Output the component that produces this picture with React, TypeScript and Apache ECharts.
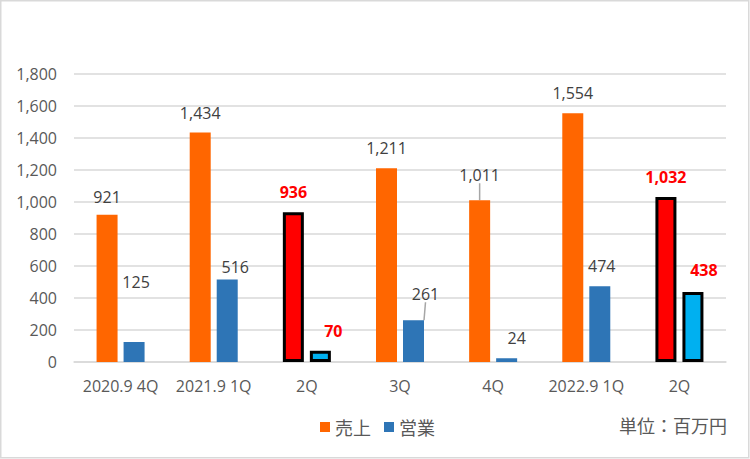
import React, { useEffect, useRef } from "react";
import * as echarts from "echarts";

const categories = ["2020.9 4Q", "2021.9 1Q", "2Q", "3Q", "4Q", "2022.9 1Q", "2Q"];
const salesValues = [921, 1434, 936, 1211, 1011, 1554, 1032];
const opValues = [125, 516, 70, 261, 24, 474, 438];
const highlighted = [2, 6];
const seriesNames = ["売上", "営業"];
const unitText = "単位：百万円";

// label nudges (px) relative to the default "top" label placement
const salesLabelShift = [
  [0, -5], [0, -7], [0, -7], [0, -7], [0, -12], [0, -7], [0, -7],
];
const opLabelShift = [
  [2, -47], [8, 1], [13, -7], [12, -13], [10, -7], [2, -7], [11, -9],
];
const salesLeader = [4];
const opLeader = [3];

const FONT = "'Open Sans', 'Noto Sans CJK JP', sans-serif";
const JP_FONT = "'Noto Sans CJK JP', sans-serif";

export default function App() {
  const ref = useRef<HTMLDivElement>(null);

  useEffect(() => {
    document.body.style.margin = "0";
    if (!ref.current) return;
    const chart = echarts.init(ref.current, undefined, { renderer: "svg" });

    const buildData = (
      values: number[],
      normal: string,
      hi: string,
      leaders: number[]
    ) =>
      values.map((v, i) => {
        const isHi = highlighted.includes(i);
        const item: any = { value: v };
        if (isHi) {
          item.itemStyle = { color: hi, borderColor: "#000000", borderWidth: 3 };
          item.label = { color: "#ff0000", fontWeight: "bold" };
        }
        if (leaders.includes(i)) {
          item.labelLine = { show: true };
        }
        return item;
      });

    const labelCommon = {
      show: true,
      position: "top",
      distance: 5,
      fontFamily: FONT,
      fontSize: 16,
      color: "#404040",
      formatter: (p: any) => Number(p.value).toLocaleString("en-US"),
    };

    chart.setOption({
      animation: false,
      grid: { left: 74, right: 24, top: 74, bottom: 97 },
      legend: {
        left: 315,
        top: 413,
        itemWidth: 10,
        itemHeight: 10,
        itemGap: 13,
        icon: "rect",
        textStyle: { fontFamily: JP_FONT, fontSize: 18, color: "#595959" },
        data: seriesNames,
      },
      xAxis: {
        type: "category",
        data: categories,
        axisLine: { lineStyle: { color: "#d9d9d9", width: 1.5 } },
        axisTick: { show: false },
        axisLabel: {
          fontFamily: FONT,
          fontSize: 16,
          color: "#595959",
          margin: 16,
          interval: 0,
        },
      },
      yAxis: {
        type: "value",
        min: 0,
        max: 1800,
        interval: 200,
        axisLine: { show: false },
        axisTick: { show: false },
        splitLine: { lineStyle: { color: "#d9d9d9", width: 1.5 } },
        axisLabel: {
          fontFamily: FONT,
          fontSize: 16,
          color: "#595959",
          margin: 17,
          formatter: (v: number) => v.toLocaleString("en-US"),
        },
      },
      graphic: [
        {
          type: "rect",
          shape: { x: 0.75, y: 0.75, width: 748, height: 457 },
          style: { fill: "none", stroke: "#d9d9d9", lineWidth: 1.5 },
          silent: true,
        },
        {
          type: "text",
          x: 727,
          y: 425,
          style: {
            text: unitText,
            fontFamily: JP_FONT,
            fontSize: 18,
            fill: "#595959",
            align: "right",
            verticalAlign: "middle",
          },
        },
      ],
      series: [
        {
          name: seriesNames[0],
          type: "bar",
          barWidth: 21,
          barGap: "28.6%",
          itemStyle: { color: "#ff6600" },
          data: buildData(salesValues, "#ff6600", "#ff0000", salesLeader),
          label: labelCommon,
          labelLine: { show: false, lineStyle: { color: "#a6a6a6", width: 1.5 } },
          labelLayout: (p: any) => ({
            dx: salesLabelShift[p.dataIndex][0],
            dy: salesLabelShift[p.dataIndex][1],
          }),
        },
        {
          name: seriesNames[1],
          type: "bar",
          barWidth: 21,
          barGap: "28.6%",
          itemStyle: { color: "#2e75b6" },
          data: buildData(opValues, "#2e75b6", "#00b0f0", opLeader),
          label: labelCommon,
          labelLine: { show: false, lineStyle: { color: "#a6a6a6", width: 1.5 } },
          labelLayout: (p: any) => ({
            dx: opLabelShift[p.dataIndex][0],
            dy: opLabelShift[p.dataIndex][1],
          }),
        },
      ],
    });

    return () => chart.dispose();
  }, []);

  return <div ref={ref} style={{ width: 750, height: 459 }} />;
}
